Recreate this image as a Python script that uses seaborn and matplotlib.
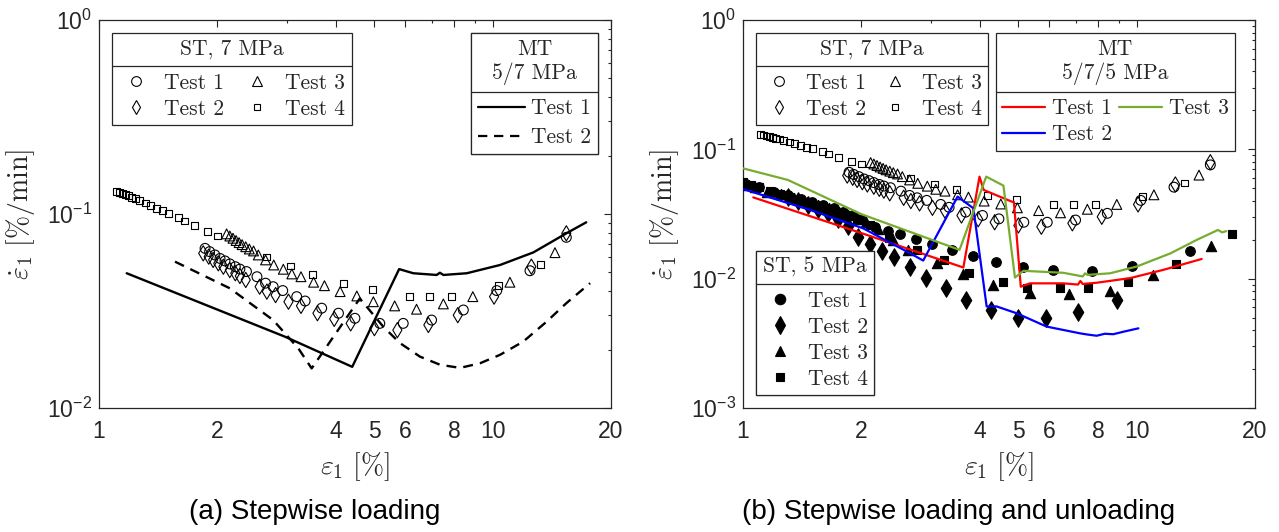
import matplotlib
matplotlib.use('Agg')
import matplotlib.pyplot as plt
import seaborn as sns
from matplotlib.lines import Line2D
from matplotlib.ticker import FixedLocator, FixedFormatter, LogLocator, NullFormatter

# ---------------- data ----------------
# ST, 7 MPa (hollow markers, same tests in both panels)
st7_t1_eps = [1.86, 1.91, 1.97, 2.03, 2.09, 2.15, 2.22, 2.28, 2.37, 2.52, 2.65, 2.77, 2.93, 3.18, 3.34,
              3.68, 4.06, 4.47, 5.17, 5.93, 7.00, 8.43, 10.25, 12.45, 15.4]
st7_t1_rate = [0.0665, 0.064, 0.0615, 0.059, 0.0573, 0.0553, 0.0535, 0.052, 0.0505, 0.0475, 0.044, 0.0422,
               0.0403, 0.0375, 0.0356, 0.0327, 0.0308, 0.029, 0.0273, 0.0273, 0.0284, 0.032, 0.0403, 0.051, 0.0758]
st7_t2_eps = [1.84, 1.90, 1.95, 2.01, 2.07, 2.15, 2.22, 2.28, 2.36, 2.56, 2.67, 2.81, 3.03, 3.26, 3.59,
              3.96, 4.36, 5.01, 5.73, 6.87, 8.16, 10.09, 12.55, 15.4]
st7_t2_rate = [0.0627, 0.0603, 0.058, 0.0557, 0.0535, 0.0514, 0.0495, 0.0479, 0.0457, 0.0422, 0.0398, 0.0382,
               0.0353, 0.0336, 0.0308, 0.0288, 0.0273, 0.0258, 0.0252, 0.0268, 0.0301, 0.0375, 0.0535, 0.0795]
st7_t3_eps = [2.11, 2.15, 2.19, 2.23, 2.27, 2.31, 2.36, 2.41, 2.47, 2.54, 2.65, 2.78, 2.94, 3.09, 3.26, 3.51,
              3.74, 4.10, 4.52, 4.98, 5.64, 6.41, 7.50, 8.91, 11.07, 14.41]
st7_t3_rate = [0.079, 0.077, 0.075, 0.073, 0.0712, 0.0695, 0.0678, 0.066, 0.0645, 0.0615, 0.058, 0.0546, 0.0519,
               0.0491, 0.0475, 0.0445, 0.0427, 0.0398, 0.0378, 0.0353, 0.0336, 0.0323, 0.0344, 0.0375, 0.0445, 0.0632]
st7_t4_eps = [1.11, 1.13, 1.15, 1.17, 1.19, 1.21, 1.24, 1.27, 1.31, 1.35, 1.40, 1.45, 1.50, 1.59, 1.65, 1.75,
              1.89, 2.00, 2.67, 3.06, 3.48, 4.18, 4.96, 6.15, 6.90, 7.88, 10.35, 13.25]
st7_t4_rate = [0.131, 0.129, 0.127, 0.126, 0.124, 0.122, 0.120, 0.117, 0.114, 0.111, 0.107, 0.104, 0.101, 0.096,
               0.092, 0.087, 0.081, 0.077, 0.060, 0.054, 0.049, 0.044, 0.041, 0.0375, 0.0375, 0.0375, 0.043, 0.055]

# ST, 5 MPa (filled markers, panel b)
st5_t1_eps = [1.02, 1.10, 1.20, 1.30, 1.40, 1.50, 1.60, 1.70, 1.80, 1.90, 2.00, 2.17, 2.34, 2.50, 2.75, 3.02,
              3.39, 3.83, 4.39, 5.16, 6.15, 7.69, 9.72, 13.68]
st5_t1_rate = [0.054, 0.051, 0.047, 0.044, 0.041, 0.039, 0.037, 0.035, 0.033, 0.031, 0.029, 0.0252, 0.0235,
               0.0221, 0.0203, 0.0185, 0.0167, 0.0151, 0.0135, 0.0124, 0.0117, 0.0115, 0.0125, 0.0165]
st5_t2_eps = [1.30, 1.38, 1.46, 1.55, 1.64, 1.74, 1.85, 1.96, 2.10, 2.26, 2.42, 2.66, 2.92, 3.28, 3.69, 4.27,
              4.99, 5.89, 7.09, 8.94]
st5_t2_rate = [0.043, 0.040, 0.037, 0.0345, 0.032, 0.029, 0.0255, 0.0211, 0.0185, 0.0165, 0.0146, 0.0124,
               0.0102, 0.0084, 0.0068, 0.0057, 0.0050, 0.0050, 0.0055, 0.0068]
st5_t3_eps = [1.0, 1.07, 1.15, 1.25, 1.35, 1.45, 1.55, 1.65, 1.75, 1.85, 1.95, 2.05, 2.20, 2.40, 2.63, 3.11,
              3.63, 4.33, 5.36, 6.75, 8.56, 11.03, 15.46]
st5_t3_rate = [0.053, 0.051, 0.047, 0.045, 0.042, 0.039, 0.037, 0.035, 0.033, 0.031, 0.029, 0.0275, 0.024,
               0.020, 0.0167, 0.0131, 0.0109, 0.0089, 0.0077, 0.0076, 0.0081, 0.0107, 0.0179]
st5_t4_eps = [1.0, 1.05, 1.10, 1.17, 1.24, 1.31, 1.40, 1.50, 1.60, 1.70, 1.82, 1.95, 2.10, 2.35, 2.76, 3.25,
              3.76, 4.57, 5.26, 6.39, 7.54, 9.50, 12.58, 17.45]
st5_t4_rate = [0.056, 0.053, 0.051, 0.048, 0.045, 0.043, 0.040, 0.037, 0.035, 0.033, 0.031, 0.029, 0.026,
               0.0205, 0.0167, 0.0139, 0.0110, 0.0095, 0.0084, 0.0084, 0.0084, 0.0095, 0.0129, 0.0221]

# MT 5/7 MPa (panel a)
mt57_t1_eps = [1.176, 2.97, 4.40, 5.79, 6.29, 7.21, 7.35, 7.50, 8.60, 10.45, 12.7, 15.4, 17.3]
mt57_t1_rate = [0.0495, 0.0233, 0.0163, 0.052, 0.0495, 0.0485, 0.0498, 0.0485, 0.0495, 0.0546, 0.0634, 0.0795, 0.0906]
mt57_t2_eps = [1.56, 2.15, 2.77, 3.21, 3.47, 4.60, 5.28, 5.82, 6.54, 7.36, 8.27, 9.29, 10.45, 11.97, 13.73, 15.4, 17.7]
mt57_t2_rate = [0.0568, 0.0414, 0.0284, 0.0203, 0.016, 0.0367, 0.0262, 0.0216, 0.0184, 0.0167, 0.0161, 0.017,
                0.0188, 0.022, 0.0279, 0.0347, 0.044]

# MT 5/7/5 MPa (panel b)
mt575_t1_eps = [1.062, 2.0, 3.63, 3.99, 4.09, 4.82, 4.88, 5.08, 5.36, 6.52, 7.1, 7.2, 7.3, 7.92, 9.63, 11.7, 14.64]
mt575_t1_rate = [0.0425, 0.0225, 0.0122, 0.0615, 0.0485, 0.0394, 0.0392, 0.00867, 0.0092, 0.0092, 0.0090,
                 0.0096, 0.0091, 0.0093, 0.0101, 0.0117, 0.0142]
mt575_t2_eps = [1.0, 1.48, 2.02, 2.66, 2.87, 3.51, 3.85, 4.16, 4.41, 4.96, 5.91, 7.18, 7.5, 7.92, 8.3, 8.73, 9.3, 10.11]
mt575_t2_rate = [0.0493, 0.034, 0.0245, 0.0157, 0.0138, 0.0431, 0.035, 0.0061, 0.0061, 0.0054, 0.00426,
                 0.00378, 0.0037, 0.00362, 0.00375, 0.00372, 0.0039, 0.00413]
mt575_t3_eps = [1.0, 1.3, 2.0, 3.55, 4.15, 4.59, 4.91, 5.16, 6.52, 7.3, 7.4, 7.5, 8.56, 10.0, 12.2, 14.2, 16.1, 16.5, 16.9]
mt575_t3_rate = [0.0713, 0.058, 0.0315, 0.0167, 0.0615, 0.0524, 0.0102, 0.0115, 0.0111, 0.0104, 0.0110, 0.0107,
                 0.011, 0.0124, 0.0157, 0.0199, 0.0238, 0.0228, 0.0233]

x_ticks = [1, 2, 4, 5, 6, 8, 10, 20]
x_tick_labels = ['1', '2', '4', '5', '6', '8', '10', '20']
x_minor_ticks = [3, 7, 9]

# ---------------- styling ----------------
sns.set_style('white')
plt.rcParams['font.family'] = ['Liberation Sans', 'DejaVu Sans']
plt.rcParams['axes.edgecolor'] = '#262626'
plt.rcParams['axes.linewidth'] = 0.9

LEG_FONT = {'family': 'cmr10', 'size': 15.5}
INK = '#262626'

fig = plt.figure(figsize=(12.79, 5.32), dpi=100)
ax_a = fig.add_axes([99 / 1279, 1 - 408 / 532, 512 / 1279, 388 / 532])
ax_b = fig.add_axes([743 / 1279, 1 - 408 / 532, 512 / 1279, 388 / 532])


def points(ax, eps, rate, marker, s, filled):
    sns.scatterplot(x=eps, y=rate, ax=ax, marker=marker, s=s, color='k',
                    facecolor='k' if filled else 'none', edgecolor='k',
                    linewidth=0.8, legend=False, zorder=3)


def curve(ax, eps, rate, color, dashed=False, lw=1.6):
    sns.lineplot(x=eps, y=rate, ax=ax, color=color, lw=lw, estimator=None, sort=False,
                 dashes=False, zorder=4)
    if dashed:
        ax.lines[-1].set_dashes((4.2, 3.0))


def style_axes(ax, ymin):
    ax.set_xscale('log')
    ax.set_yscale('log')
    ax.set_xlim(1, 20)
    ax.set_ylim(ymin, 1)
    ax.xaxis.set_major_locator(FixedLocator(x_ticks))
    ax.xaxis.set_major_formatter(FixedFormatter(x_tick_labels))
    ax.xaxis.set_minor_locator(FixedLocator(x_minor_ticks))
    ax.xaxis.set_minor_formatter(NullFormatter())
    ax.yaxis.set_major_locator(LogLocator(base=10))
    ax.yaxis.set_minor_locator(LogLocator(base=10, subs=[2, 3, 4, 5, 6, 7, 8, 9]))
    ax.yaxis.set_minor_formatter(NullFormatter())
    ax.tick_params(which='both', direction='in', top=True, right=True, color=INK,
                   labelcolor=INK, labelsize=16.5, width=0.8)
    ax.tick_params(which='major', length=5)
    ax.tick_params(which='minor', length=2.5)
    ax.tick_params(axis='x', pad=9)
    ax.tick_params(axis='y', pad=5)
    ax.set_xlabel(r'$\varepsilon_1\ [\%]$', fontsize=20, math_fontfamily='cm', labelpad=5, color=INK)
    ax.set_ylabel(r'$\dot{\varepsilon}_1\ [\%/\mathrm{min}]$', fontsize=20, math_fontfamily='cm',
                  labelpad=7, color=INK)
    for sp in ax.spines.values():
        sp.set_visible(True)
        sp.set_color(INK)


def marker_handle(marker, ms, filled):
    return Line2D([], [], ls='none', marker=marker, ms=ms, mec='k', mew=0.8,
                  mfc='k' if filled else 'none')


def line_handle(color, dashed=False):
    h = Line2D([], [], color=color, lw=1.6)
    if dashed:
        h.set_dashes((4.2, 3.0))
    return h


def boxed_legend(ax, handles, labels, title, loc, anchor, ncol=1, handlelength=1.6, textpad=0.5,
                 colsp=0.75, spacing=0.3):
    leg = ax.legend(handles, labels, title=title, loc=loc, bbox_to_anchor=anchor, ncol=ncol,
                    prop=LEG_FONT, title_fontproperties=LEG_FONT, frameon=True, fancybox=False,
                    framealpha=1, edgecolor=INK, borderaxespad=0, borderpad=0.3,
                    labelspacing=spacing, handlelength=handlelength, handletextpad=textpad,
                    columnspacing=colsp)
    leg.get_frame().set_linewidth(0.9)
    leg.get_title().set_multialignment('center')
    leg._legend_box.sep = 10
    ax.add_artist(leg)
    return leg


# ---------------- panel (a) ----------------
points(ax_a, st7_t1_eps, st7_t1_rate, 'o', 50, False)
points(ax_a, st7_t2_eps, st7_t2_rate, 'd', 60, False)
points(ax_a, st7_t3_eps, st7_t3_rate, '^', 50, False)
points(ax_a, st7_t4_eps, st7_t4_rate, 's', 24, False)
curve(ax_a, mt57_t1_eps, mt57_t1_rate, 'k', lw=1.7)
curve(ax_a, mt57_t2_eps, mt57_t2_rate, 'k', dashed=True, lw=1.7)
style_axes(ax_a, 1e-2)

st7_handles = [marker_handle('o', 7, False), marker_handle('d', 7.5, False),
               marker_handle('^', 7, False), marker_handle('s', 5, False)]
st7_labels = ['Test 1', 'Test 2', 'Test 3', 'Test 4']
legs = []
legs.append(boxed_legend(ax_a, st7_handles, st7_labels, 'ST, 7 MPa', 'upper left', (0.0254, 0.9665), ncol=2))
legs.append(boxed_legend(ax_a, [line_handle('k'), line_handle('k', True)], ['Test 1', 'Test 2'],
                         'MT\n5/7 MPa', 'upper right', (0.9746, 0.9665), handlelength=2.2, textpad=0.3,
                         spacing=0.45))

# ---------------- panel (b) ----------------
points(ax_b, st7_t1_eps, st7_t1_rate, 'o', 50, False)
points(ax_b, st7_t2_eps, st7_t2_rate, 'd', 60, False)
points(ax_b, st7_t3_eps, st7_t3_rate, '^', 50, False)
points(ax_b, st7_t4_eps, st7_t4_rate, 's', 24, False)
points(ax_b, st5_t1_eps, st5_t1_rate, 'o', 48, True)
points(ax_b, st5_t2_eps, st5_t2_rate, 'd', 80, True)
points(ax_b, st5_t3_eps, st5_t3_rate, '^', 55, True)
points(ax_b, st5_t4_eps, st5_t4_rate, 's', 28, True)
curve(ax_b, mt575_t1_eps, mt575_t1_rate, '#FF0000')
curve(ax_b, mt575_t2_eps, mt575_t2_rate, '#0000FF')
curve(ax_b, mt575_t3_eps, mt575_t3_rate, '#77AC30')
style_axes(ax_b, 1e-3)

legs.append(boxed_legend(ax_b, st7_handles, st7_labels, 'ST, 7 MPa', 'upper left', (0.0254, 0.9665), ncol=2,
                         handlelength=1.5, colsp=0.6))
legs.append(boxed_legend(ax_b, [line_handle('#FF0000'), line_handle('#0000FF'), line_handle('#77AC30')],
                         ['Test 1', 'Test 2', 'Test 3'], 'MT\n5/7/5 MPa', 'upper right', (0.961, 0.9665),
                         ncol=2, handlelength=2.0, textpad=0.3, colsp=0.35))
st5_handles = [marker_handle('o', 7.5, True), marker_handle('d', 9, True),
               marker_handle('^', 7.5, True), marker_handle('s', 5.5, True)]
legs.append(boxed_legend(ax_b, st5_handles, st7_labels, 'ST, 5 MPa', 'lower left', (0.0254, 0.0335)))

fig.text(315 / 1279, 0.037, '(a) Stepwise loading', ha='center', va='center', fontsize=20, color='k')
fig.text(959 / 1279, 0.037, '(b) Stepwise loading and unloading', ha='center', va='center',
         fontsize=20, color='k')

# MATLAB-like separator under each legend title
fig.canvas.draw()
r = fig.canvas.get_renderer()
inv = fig.transFigure.inverted()
for leg in legs:
    fb = leg.get_frame().get_window_extent(r)
    tb = leg.get_title().get_window_extent(r)
    top = max(t.get_window_extent(r).y1 for t in leg.get_texts())
    y = 0.5 * (tb.y0 + top)
    (x0, y0), (x1, _) = inv.transform([(fb.x0, y), (fb.x1, y)])
    fig.add_artist(Line2D([x0, x1], [y0, y0], color=INK, lw=0.9, transform=fig.transFigure, zorder=10))

fig.savefig('out.png', dpi=100)
